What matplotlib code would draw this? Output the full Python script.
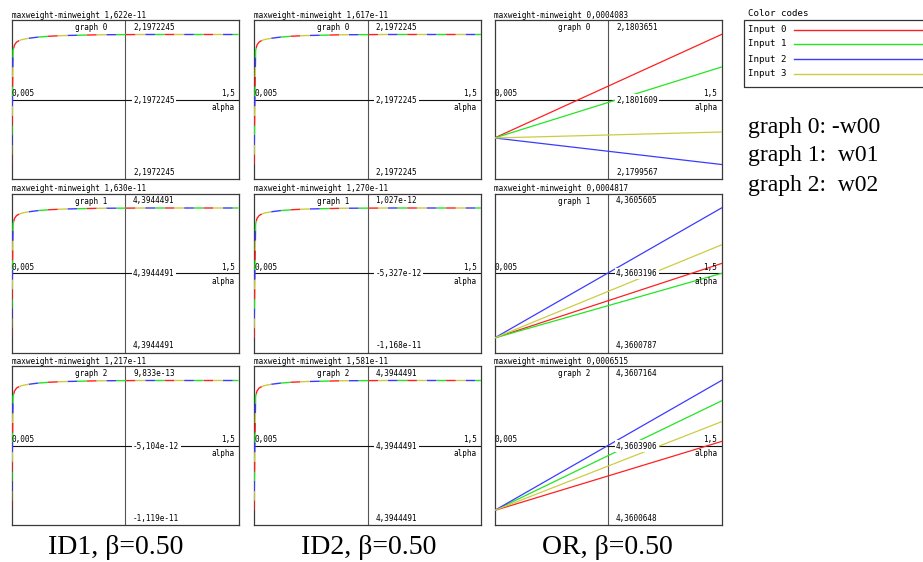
import matplotlib
matplotlib.use('Agg')
import matplotlib.pyplot as plt
from matplotlib.patches import Rectangle

W_PX, H_PX, DPI = 923, 562, 100

# alpha sweep shared by every panel
alpha_lo, alpha_hi = 0.005, 1.5

input_names = ['Input 0', 'Input 1', 'Input 2', 'Input 3']
input_colors = ['#ff1f1f', '#22e622', '#3b3bff', '#cccc44']

methods = ['ID1', 'ID2', 'OR']
beta = 0.50
graph_terms = ['graph 0: -w00', 'graph 1:  w01', 'graph 2:  w02']

# rows = graph 0..2, columns = ID1, ID2, OR
spread = [[1.622e-11, 1.617e-11, 0.0004083],
          [1.630e-11, 1.270e-11, 0.0004817],
          [1.217e-11, 1.581e-11, 0.0006515]]
w_top = [[2.1972245, 2.1972245, 2.1803651],
         [4.3944491, 1.027e-12, 4.3605605],
         [9.833e-13, 4.3944491, 4.3607164]]
w_mid = [[2.1972245, 2.1972245, 2.1801609],
         [4.3944491, -5.327e-12, 4.3603196],
         [-5.104e-12, 4.3944491, 4.3603906]]
w_bot = [[2.1972245, 2.1972245, 2.1799567],
         [4.3944491, -1.168e-11, 4.3600787],
         [-1.119e-11, 4.3944491, 4.3600648]]

# ID runs: all four inputs follow the same saturating curve
# (fraction of the panel's weight spread above its minimum)
id_alpha = [0.005, 0.0156, 0.025, 0.038, 0.05, 0.071, 0.09, 0.126, 0.18, 0.258, 0.35, 0.588, 0.9, 1.5]
id_frac = [0.0, 0.878, 0.92, 0.941, 0.95, 0.96, 0.965, 0.972, 0.98, 0.987, 0.992, 0.998, 1.0, 1.0]

# OR runs: straight lines, weight at alpha_lo and at alpha_hi per input
or_start = [2.1800400, 4.3600787, 4.3600648]
or_end = [[2.1803651, 2.1802629, 2.1799567, 2.1800588],
          [4.3603548, 4.3603182, 4.3605605, 4.3604237],
          [4.3604108, 4.3606141, 4.3607164, 4.3605098]]

plt.rcParams['lines.scale_dashes'] = False
MONO = 'DejaVu Sans Mono'
SERIF = 'Liberation Serif'

fig = plt.figure(figsize=(W_PX / DPI, H_PX / DPI), dpi=DPI)

cols_left = [11.5, 254, 494.5]
rows_top = [20, 193.5, 366]
box_w, box_h = 227, 159
margin = 14.5  # px between data extent and panel frame


def ftext(x, y, s, **kw):
    # place text by pixel position measured from the top-left corner
    kw.setdefault('family', MONO)
    kw.setdefault('fontsize', 5.5)
    return fig.text(x / W_PX, 1 - y / H_PX, s, **kw)


def fmt(v):
    s = f"{v:.7f}" if abs(v) >= 1e-6 else f"{v:.3e}"
    return s.replace('.', ',')


for r in range(3):
    for c in range(3):
        L, T = cols_left[c], rows_top[r]
        ax = fig.add_axes([L / W_PX, 1 - (T + box_h) / H_PX, box_w / W_PX, box_h / H_PX])
        lo = w_bot[r][c]
        span = spread[r][c]
        m = span * margin / (box_h - 2 * margin)
        ax.set_xlim(alpha_lo, alpha_hi)
        ax.set_ylim(lo - m, lo + span + m)
        ax.set_xticks([])
        ax.set_yticks([])
        for sp in ax.spines.values():
            sp.set_color('#3a3a3a')
            sp.set_linewidth(0.9)

        # crosshair
        ax.axvline((alpha_lo + alpha_hi) / 2, color='#555555', lw=0.8, zorder=1)
        ax.plot([0, 1], [0.5, 0.5], transform=ax.transAxes, color='#111111', lw=0.8, zorder=1)

        if methods[c] == 'OR':
            for k in range(4):
                ax.plot([alpha_lo, alpha_hi], [or_start[r], or_end[r][k]],
                        color=input_colors[k], lw=0.9, zorder=3)
        else:
            ys = [lo + f * span for f in id_frac]
            for k in range(4):
                ax.plot(id_alpha, ys, color=input_colors[k], lw=1.0, zorder=3,
                        linestyle=(k * 7.0, (7.0, 21.0)))

        cx, cy = L + box_w / 2, T + box_h / 2
        ftext(L, T - 2.5, "maxweight-minweight " + fmt(spread[r][c]), va='baseline')
        ftext(cx - 18, T + 3, f"graph {r}", ha='right', va='top')
        ftext(cx + 8, T + 3, fmt(w_top[r][c]), ha='left', va='top')
        ftext(L + 0.5, cy - 1.5, f"{alpha_lo:g}".replace('.', ','), ha='left', va='bottom')
        ftext(L + box_w - 4, cy - 1.5, f"{alpha_hi:g}".replace('.', ','), ha='right', va='bottom')
        ftext(L + box_w - 4, cy + 3.5, "alpha", ha='right', va='top')
        ftext(cx + 8, cy + 0.5, fmt(w_mid[r][c]), ha='left', va='center', zorder=5,
              bbox=dict(facecolor='white', edgecolor='none', pad=1.0))
        ftext(cx + 8, T + box_h - 2.5, fmt(w_bot[r][c]), ha='left', va='bottom')

# method captions under each column
caption_x = [116, 369, 607]
for c in range(3):
    ftext(caption_x[c], 554, f"{methods[c]}, \u03b2={beta:.2f}", family=SERIF, fontsize=20,
          ha='center', va='baseline')

# colour key
ftext(748, 16, "Color codes", fontsize=6.6, va='baseline')
fig.add_artist(Rectangle((743.5 / W_PX, 1 - 87 / H_PX), 200 / W_PX, 67 / H_PX,
                         transform=fig.transFigure, fill=False, edgecolor='#333333', lw=0.9))
key_y = [29.5, 44, 59, 74]
for k in range(4):
    ftext(748, key_y[k], input_names[k], fontsize=6.6, va='center')
    fig.add_artist(plt.Line2D([794 / W_PX, 1.0], [1 - key_y[k] / H_PX] * 2,
                              transform=fig.transFigure, color=input_colors[k], lw=1.0))

term_y = [132.5, 161.5, 190.5]
for k in range(3):
    ftext(747.5, term_y[k], graph_terms[k], family=SERIF, fontsize=17, va='baseline')

fig.savefig('out.png', dpi=DPI)
